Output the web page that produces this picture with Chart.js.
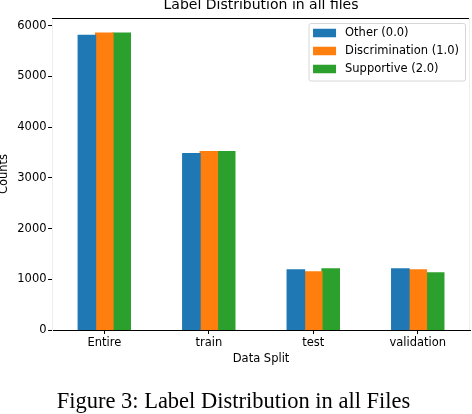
<!DOCTYPE html>
<html>
<head>
    <title>Label Distribution</title>
    <script src="https://cdn.jsdelivr.net/npm/chart.js@4.4.1/dist/chart.umd.min.js"></script>
</head>

<style>
    body {
        margin: 0;
        background: #ffffff;
    }

    .chart-container {
        width: 472px;
        height: 414px;
        position: relative;
    }
</style>

<body>
    <div class="chart-container"><canvas id="myChart"></canvas></div>

    <script>

    // data
    const splits = ['Entire', 'train', 'test', 'validation'];
    const otherCounts = [5810, 3478, 1186, 1205];
    const discriminationCounts = [5850, 3518, 1146, 1186];
    const supportiveCounts = [5850, 3518, 1205, 1126];
    const seriesLabels = ['Other (0.0)', 'Discrimination (1.0)', 'Supportive (2.0)'];
    const seriesColors = ['#1f77b4', '#ff7f0e', '#2ca02c'];
    const yTicks = [0, 1000, 2000, 3000, 4000, 5000, 6000];

    const FONT = "'DejaVu Sans', sans-serif";

// top/right spines like matplotlib
    const spines = {
        id: 'spines',
        afterDraw(chart) {
            const {ctx, chartArea: a} = chart;
            ctx.save();
            ctx.lineWidth = 1;
            ctx.strokeStyle = '#000000';
            ctx.beginPath();
            ctx.moveTo(a.left, a.top + 0.5);
            ctx.lineTo(a.right, a.top + 0.5);
            ctx.stroke();
            ctx.strokeStyle = '#eeeeee';
            ctx.beginPath();
            ctx.moveTo(a.right - 0.5, a.top);
            ctx.lineTo(a.right - 0.5, a.bottom);
            ctx.stroke();
            ctx.restore();
        }
    };

// legend box in the upper right corner of the plot
    const boxLegend = {
        id: 'boxLegend',
        afterDraw(chart) {
            const {ctx, chartArea: a} = chart;
            const sets = chart.data.datasets;
            ctx.save();
            ctx.font = '11.5px ' + FONT;
            let textW = 0;
            sets.forEach(ds => { textW = Math.max(textW, ctx.measureText(ds.label).width); });
            const swW = 23, swH = 8.5, gap = 9, padL = 4.5, padR = 6, rowH = 18;
            const w = padL + swW + gap + textW + padR;
            const h = 57.5;
            const x0 = a.right - 5 - w;
            const y0 = a.top + 5;
            ctx.fillStyle = 'rgba(255,255,255,0.8)';
            ctx.strokeStyle = '#d6d6d6';
            ctx.lineWidth = 1;
            ctx.beginPath();
            ctx.roundRect(x0 + 0.5, y0 + 0.5, w, h, 2);
            ctx.fill();
            ctx.stroke();
            sets.forEach((ds, i) => {
                const cy = y0 + 10 + i * rowH;
                ctx.fillStyle = ds.backgroundColor;
                ctx.fillRect(x0 + padL, cy - swH / 2, swW, swH);
                ctx.fillStyle = '#000000';
                ctx.textBaseline = 'middle';
                ctx.fillText(ds.label, x0 + padL + swW + gap, cy);
            });
            ctx.restore();
        }
    };

    const ctx = document.getElementById('myChart').getContext('2d');

    const myChart = new Chart(ctx, {
        type: 'bar',
        data: {
            labels: splits,
            datasets: [
                { label: seriesLabels[0], data: otherCounts, backgroundColor: seriesColors[0] },
                { label: seriesLabels[1], data: discriminationCounts, backgroundColor: seriesColors[1] },
                { label: seriesLabels[2], data: supportiveCounts, backgroundColor: seriesColors[2] }
            ]
        },
        options: {
            responsive: true,
            maintainAspectRatio: false,
            animation: false,
            datasets: {
                bar: {
                    categoryPercentage: 0.5,
                    barPercentage: 1.0,
                    borderWidth: 0,
                    inflateAmount: 0.6
                }
            },
            layout: {
                padding: { left: -3, right: 2, top: -3, bottom: -2 }
            },
            plugins: {
                legend: { display: false },
                tooltip: { enabled: false },
                title: {
                    display: true,
                    text: 'Label Distribution in all files',
                    fullSize: false,
                    color: '#000000',
                    font: { family: FONT, size: 14, weight: 'normal' },
                    padding: { top: 0, bottom: 4.2 }
                },
                subtitle: {
                    display: true,
                    position: 'bottom',
                    text: 'Figure 3: Label Distribution in all Files',
                    color: '#000000',
                    font: { family: "'Liberation Serif', 'Times New Roman', serif", size: 22.5, weight: 'normal' },
                    padding: { top: 22.6, bottom: 0.5 }
                }
            },
            scales: {
                x: {
                    grid: {
                        display: true,
                        drawOnChartArea: false,
                        drawTicks: true,
                        tickLength: 4,
                        offset: false,
                        color: '#000000'
                    },
                    border: { display: true, color: '#000000', width: 1 },
                    ticks: {
                        color: '#000000',
                        padding: 2,
                        maxRotation: 0,
                        font: { family: FONT, size: 11.5 }
                    },
                    title: {
                        display: true,
                        text: 'Data Split',
                        color: '#000000',
                        font: { family: FONT, size: 11.5 },
                        padding: { top: 0.3, bottom: 0 }
                    }
                },
                y: {
                    min: 0,
                    max: 6150,
                    afterBuildTicks: axis => {
                        axis.ticks = yTicks.map(v => ({ value: v }));
                    },
                    grid: {
                        display: true,
                        drawOnChartArea: false,
                        drawTicks: true,
                        tickLength: 4,
                        color: '#000000'
                    },
                    border: { display: true, color: '#eeeeee', width: 1 },
                    ticks: {
                        color: '#000000',
                        padding: 1.5,
                        font: { family: FONT, size: 11.5 },
                        callback: value => String(value)
                    },
                    title: {
                        display: true,
                        text: 'Counts',
                        color: '#000000',
                        font: { family: FONT, size: 11.5 },
                        padding: { top: 0, bottom: 5 }
                    }
                }
            }
        },
        plugins: [spines, boxLegend]
    });

    </script>
</body>
</html>
